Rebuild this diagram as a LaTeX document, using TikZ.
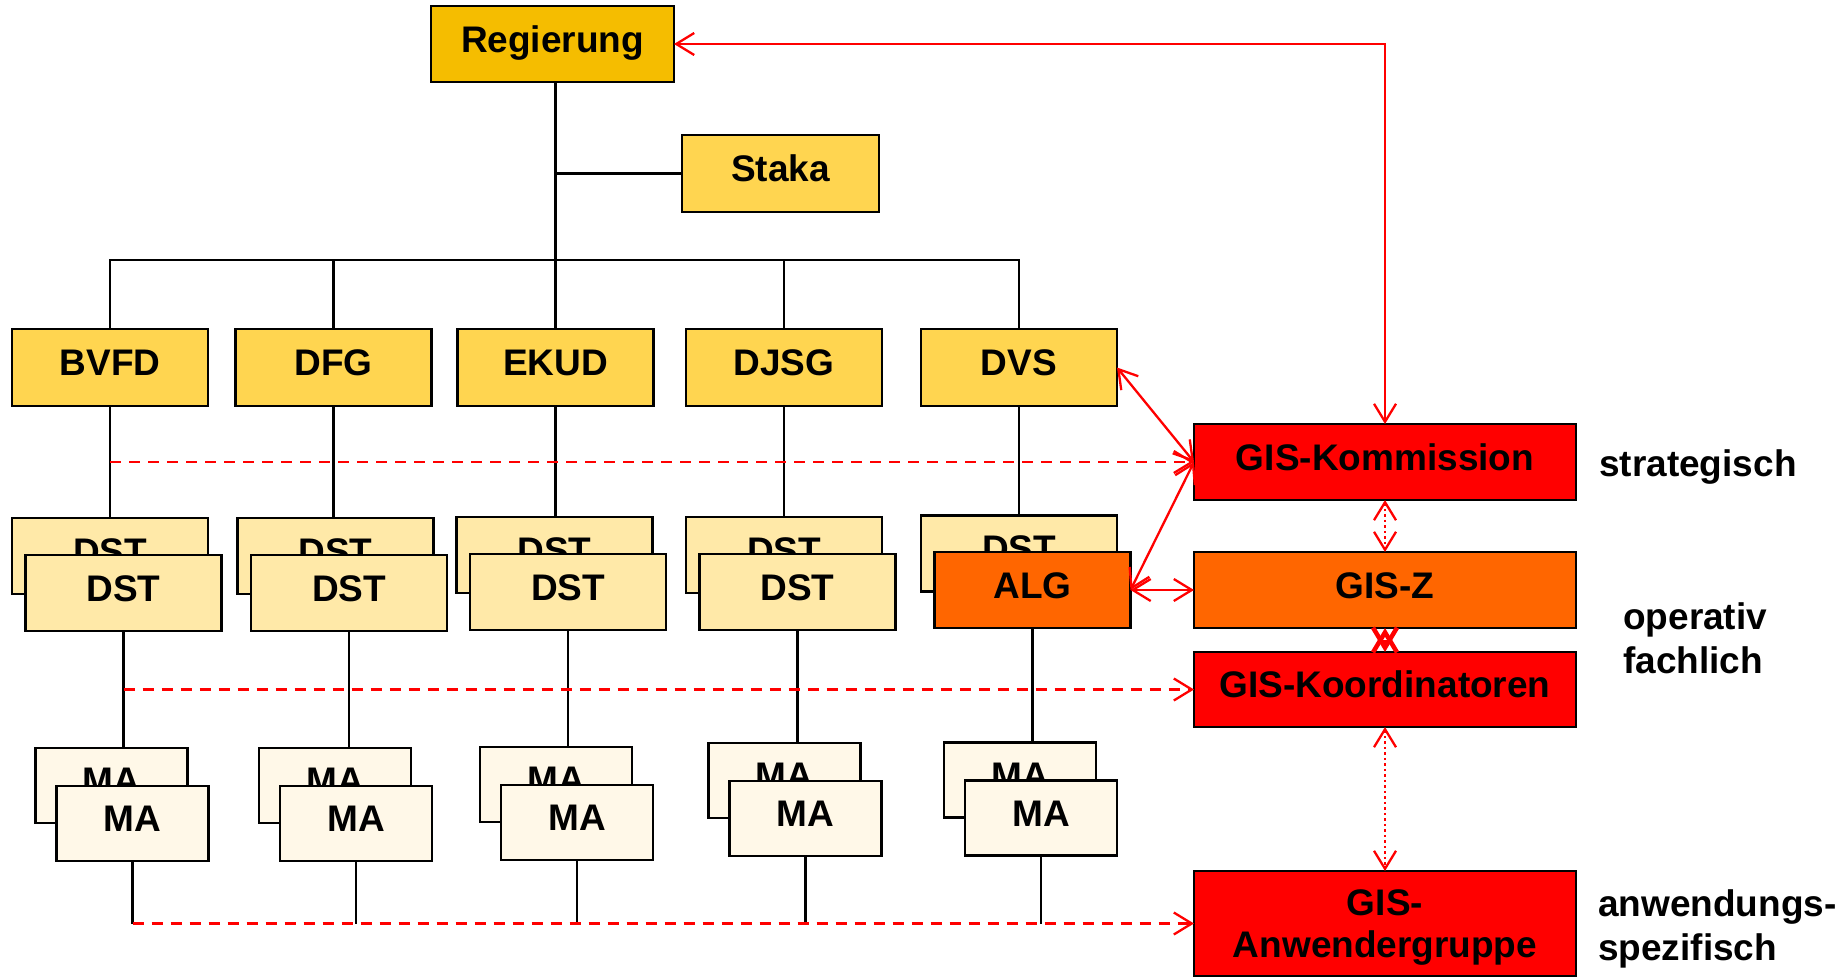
\documentclass[tikz,border=0pt]{standalone}
\usepackage{fontspec}
\setmainfont{Liberation Sans}
\usetikzlibrary{arrows.meta}
\definecolor{regc}{RGB}{245,189,0}
\definecolor{yelc}{RGB}{255,213,80}
\definecolor{dstc}{RGB}{255,233,168}
\definecolor{mac}{RGB}{255,248,232}
\definecolor{orgc}{RGB}{255,102,0}
\definecolor{redc}{RGB}{255,0,0}
\begin{document}
\begin{tikzpicture}[x=1pt,y=-1pt,
  >={Straight Barb[length=18pt,width=22pt]},
  gbox/.style={draw=black,line width=2.4pt,inner sep=0pt,outer sep=0pt,
    font=\bfseries\fontsize{37}{42}\selectfont},
  oneline/.style={text height=26pt,text depth=10pt},
  lvl/.style={gbox,oneline,fill=yelc,minimum width=196pt,minimum height=77pt},
  dstbox/.style={gbox,oneline,fill=dstc,minimum width=196pt,minimum height=76pt},
  mabox/.style={gbox,oneline,fill=mac,minimum width=152pt,minimum height=75pt},
  gisbox/.style={gbox,minimum width=382pt,minimum height=76pt},
  conn/.style={draw=black,line width=2.2pt},
  rline/.style={draw=redc,line width=2.3pt},
  rdash/.style={rline,dash pattern=on 11pt off 8pt},
  rdot/.style={rline,dash pattern=on 2.5pt off 3pt},
  side/.style={anchor=base west,inner sep=0pt,font=\bfseries\fontsize{37}{42}\selectfont}
]
\useasboundingbox (0,0) rectangle (1844,977);

% top
\node[gbox,oneline,fill=regc,minimum width=243pt,minimum height=76pt] (reg) at (552.5,44) {Regierung};
\node[lvl,minimum width=197pt] (staka) at (780.5,173.5) {Staka};

% level 2
\node[lvl] (bvfd) at (110,367.5) {BVFD};
\node[lvl] (dfg) at (333.5,367.5) {DFG};
\node[lvl] (ekud) at (555.5,367.5) {EKUD};
\node[lvl] (djsg) at (784,367.5) {DJSG};
\node[lvl] (dvs) at (1019,367.5) {DVS};

% DST back
\node[dstbox] (dstb1) at (110,556) {DST};
\node[dstbox] (dstb2) at (335.5,556) {DST};
\node[dstbox] (dstb3) at (554.5,555) {DST};
\node[dstbox] (dstb4) at (784,555) {DST};
\node[dstbox] (dstb5) at (1019,553.5) {DST};
% DST front
\node[dstbox] (dstf1) at (123.5,593) {DST};
\node[dstbox] (dstf2) at (349,593) {DST};
\node[dstbox] (dstf3) at (568,592) {DST};
\node[dstbox] (dstf4) at (797.5,592) {DST};
\node[dstbox,fill=orgc] (alg) at (1032.5,590) {ALG};

% MA back
\node[mabox] (mab1) at (111.5,785.5) {MA};
\node[mabox] (mab2) at (335,785.5) {MA};
\node[mabox] (mab3) at (556,784.5) {MA};
\node[mabox] (mab4) at (784.5,780.5) {MA};
\node[mabox] (mab5) at (1020,780) {MA};
% MA front
\node[mabox] (maf1) at (132.5,823.5) {MA};
\node[mabox] (maf2) at (356,823.5) {MA};
\node[mabox] (maf3) at (577,822.5) {MA};
\node[mabox] (maf4) at (805.5,818.5) {MA};
\node[mabox] (maf5) at (1041,818) {MA};

% GIS boxes
\node[gisbox,oneline,fill=redc] (kom) at (1385,462) {GIS-Kommission};
\node[gisbox,oneline,fill=orgc] (gisz) at (1385,590) {GIS-Z};
\node[gisbox,oneline,fill=redc,minimum height=75pt] (koord) at (1385,689.5) {GIS-Koordinatoren};
\node[gisbox,fill=redc,minimum height=105pt,align=center,text depth=-6pt] (anw) at (1385,923.5) {GIS-\\Anwendergruppe};

% side labels
\node[side] (l1) at (1599,476) {strategisch};
\node[side] (l2) at (1623,629) {operativ};
\node[side] (l3) at (1623,673) {fachlich};
\node[side] (l4) at (1598,916) {anwendungs-};
\node[side] (l5) at (1598,960) {spezifisch};

% black connectors
\coordinate (busy) at (0,260);
\draw[conn] (reg.south -| ekud.north) -- (ekud.north);
\draw[conn] (staka.west) -- (staka.west -| ekud.north);
\draw[conn] (bvfd.north) -- (bvfd.north |- busy) -- (dvs.north |- busy) -- (dvs.north);
\draw[conn] (dfg.north) -- (dfg.north |- busy);
\draw[conn] (djsg.north) -- (djsg.north |- busy);
\foreach \a/\b in {bvfd/dstb1,dfg/dstb2,ekud/dstb3,djsg/dstb4,dvs/dstb5}
  \draw[conn] (\a.south) -- (\a.south |- \b.north);
\foreach \a/\b in {dstf1/mab1,dstf2/mab2,dstf3/mab3,dstf4/mab4,alg/mab5}
  \draw[conn] (\a.south) -- (\a.south |- \b.north);
\coordinate (s3) at (maf1.south |- anw.west);
\foreach \a in {maf1,maf2,maf3,maf4,maf5}
  \draw[conn] (\a.south) -- (\a.south |- s3);

% red dashed
\coordinate (s1) at (bvfd.south |- kom.west);
\coordinate (s2) at (dstf1.south |- koord.west);
\draw[rdash,->] (s1) -- (kom.west);
\draw[rdash,->] (s2) -- (koord.west);
\draw[rdash,->] (s3) -- (anw.west);

% red solid
\draw[rline,<->] (reg.east) -- (reg.east -| kom.north) -- (kom.north);
\draw[rline,<->] (dvs.east) -- (kom.west);
\draw[rline,<->] (alg.east) -- (kom.west);
\draw[rline,<->] (alg.east) -- (gisz.west);

% red dotted
\draw[rdot,<->] (kom.south) -- (gisz.north);
\draw[rdot,line width=4.5pt,{Straight Barb[length=20pt,width=24pt]}-{Straight Barb[length=20pt,width=24pt]}] (gisz.south) -- (koord.north);
\draw[rdot,<->] (koord.south) -- (anw.north);
\end{tikzpicture}
\end{document}
